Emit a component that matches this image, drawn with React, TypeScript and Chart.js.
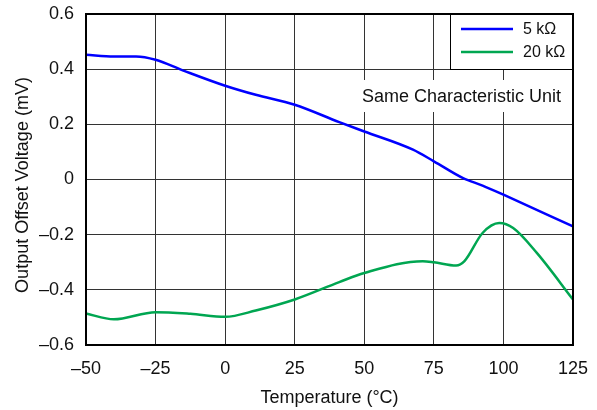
import React, { useEffect, useRef } from "react";
import { Chart, registerables } from "chart.js";

Chart.register(...registerables);

// ---- data ----
const xTicks = [-50, -25, 0, 25, 50, 75, 100, 125];
const yTicks = [-0.6, -0.4, -0.2, 0, 0.2, 0.4, 0.6];

const temps5k = [-50, -40, -32, -25, -15, 0, 11, 25, 41, 50, 67.5, 75, 85.5, 92.5, 100, 125];
const vals5k = [0.452, 0.446, 0.446, 0.434, 0.395, 0.34, 0.307, 0.271, 0.208, 0.174, 0.108, 0.066, 0.005, -0.022, -0.055, -0.17];

const temps20k = [-50, -40, -25, -12.5, 0, 11, 25, 41, 50, 71, 75, 83, 86, 92.5, 98.5, 103.5, 112, 125];
const vals20k = [-0.486, -0.507, -0.481, -0.487, -0.498, -0.475, -0.435, -0.372, -0.339, -0.296, -0.3, -0.312, -0.296, -0.194, -0.158, -0.176, -0.266, -0.435];

const seriesLabels = ["5 k\u03A9", "20 k\u03A9"];
const seriesColors = ["#0000ff", "#00a651"];
const xTitle = "Temperature (\u00B0C)";
const yTitle = "Output Offset Voltage (mV)";
const noteText = "Same Characteristic Unit";

const FONT = "'Liberation Sans', Arial, sans-serif";

const fmt = (v: number) => {
  const r = Math.round(v * 100) / 100;
  if (Math.abs(r) < 1e-9) return "0";
  const s = String(Math.abs(r));
  return r < 0 ? "\u2013" + s : s;
};

const decorPlugin = {
  id: "decor",
  afterDraw(chart: any) {
    const { ctx, chartArea } = chart;
    const { left, right, top, bottom } = chartArea;
    ctx.save();

    // note box
    ctx.fillStyle = "#fff";
    ctx.fillRect(355, 80, 212, 32);
    ctx.fillStyle = "#111";
    ctx.font = `18px ${FONT}`;
    ctx.textAlign = "right";
    ctx.textBaseline = "alphabetic";
    ctx.fillText(noteText, 561, 102);

    // legend
    const lx0 = 450, ly0 = top, lx1 = right, ly1 = 69;
    ctx.fillStyle = "#fff";
    ctx.fillRect(lx0, ly0, lx1 - lx0, ly1 - ly0);
    ctx.strokeStyle = "#000";
    ctx.lineWidth = 1;
    ctx.strokeRect(lx0 + 0.5, ly0, lx1 - lx0 - 0.5, ly1 - ly0 + 0.5);
    chart.data.datasets.forEach((ds: any, i: number) => {
      const y = 29 + i * 23;
      ctx.strokeStyle = ds.borderColor;
      ctx.lineWidth = 2.5;
      ctx.beginPath();
      ctx.moveTo(461, y);
      ctx.lineTo(513, y);
      ctx.stroke();
      ctx.fillStyle = "#111";
      ctx.font = `16px ${FONT}`;
      ctx.textAlign = "left";
      ctx.textBaseline = "middle";
      ctx.fillText(ds.label, 523, y + 1);
    });

    // frame
    ctx.strokeStyle = "#000";
    ctx.lineWidth = 2;
    ctx.strokeRect(left, top, right - left, bottom - top);

    // axis titles
    ctx.fillStyle = "#111";
    ctx.font = `18px ${FONT}`;
    ctx.textAlign = "center";
    ctx.textBaseline = "middle";
    ctx.fillText(xTitle, (left + right) / 2, 398);
    ctx.translate(23, 185);
    ctx.rotate(-Math.PI / 2);
    ctx.fillText(yTitle, 0, 0);
    ctx.restore();
  },
};

export default function App() {
  const ref = useRef<HTMLCanvasElement | null>(null);

  useEffect(() => {
    document.body.style.margin = "0";
    const canvas = ref.current;
    if (!canvas) return;
    const chart = new Chart(canvas, {
      type: "line",
      data: {
        datasets: [
          {
            label: seriesLabels[0],
            data: temps5k.map((x, i) => ({ x, y: vals5k[i] })),
            borderColor: seriesColors[0],
            backgroundColor: seriesColors[0],
            borderWidth: 2.5,
            pointRadius: 0,
            cubicInterpolationMode: "monotone",
          },
          {
            label: seriesLabels[1],
            data: temps20k.map((x, i) => ({ x, y: vals20k[i] })),
            borderColor: seriesColors[1],
            backgroundColor: seriesColors[1],
            borderWidth: 2.5,
            pointRadius: 0,
            cubicInterpolationMode: "monotone",
          },
        ],
      },
      options: {
        animation: false,
        responsive: false,
        events: [],
        layout: { padding: { top: 14, right: 24, left: 0, bottom: 0 } },
        plugins: {
          legend: { display: false },
          tooltip: { enabled: false },
        },
        scales: {
          x: {
            type: "linear",
            min: -50,
            max: 125,
            afterBuildTicks: (s: any) => {
              s.ticks = xTicks.map((v) => ({ value: v }));
            },
            afterFit: (s: any) => {
              s.height = 65;
              s.paddingLeft = 0;
              s.paddingRight = 0;
            },
            ticks: {
              padding: 13,
              color: "#111",
              font: { family: FONT, size: 18 },
              maxRotation: 0,
              autoSkip: false,
              callback: (v: any) => fmt(Number(v)),
            },
            grid: { color: "#333", lineWidth: 1, drawTicks: false },
            border: { display: false },
          },
          y: {
            type: "linear",
            min: -0.6,
            max: 0.6,
            afterBuildTicks: (s: any) => {
              s.ticks = yTicks.map((v) => ({ value: v }));
            },
            afterFit: (s: any) => {
              s.width = 86;
              s.paddingTop = 0;
              s.paddingBottom = 0;
            },
            ticks: {
              padding: 12,
              color: "#111",
              font: { family: FONT, size: 18 },
              autoSkip: false,
              callback: (v: any) => fmt(Number(v)),
            },
            grid: { color: "#333", lineWidth: 1, drawTicks: false },
            border: { display: false },
          },
        },
      },
      plugins: [decorPlugin],
    } as any);
    return () => chart.destroy();
  }, []);

  return (
    <div style={{ width: 597, height: 410 }}>
      <canvas ref={ref} width={597} height={410} style={{ display: "block" }} />
    </div>
  );
}
